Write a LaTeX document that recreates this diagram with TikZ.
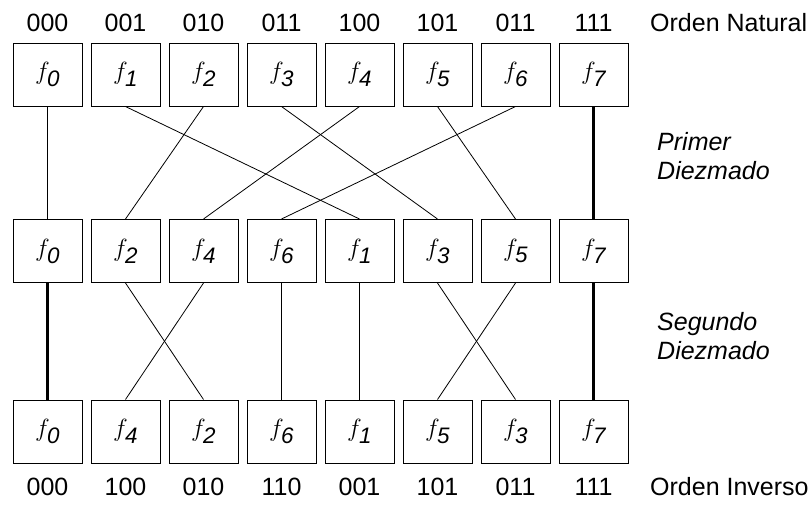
\documentclass[tikz,border=0pt]{standalone}
\usepackage{amsmath}
\usepackage{fontspec}
\setmainfont{Liberation Sans}
\usepackage{tikz}
\tikzset{cell/.style = {shape = rectangle, draw, line width = 1pt, minimum width = 69pt, minimum height = 63pt, inner sep = 0pt, font = \fontsize{32}{34}\selectfont}}
\tikzset{bits/.style = {inner sep = 0pt, font = \fontsize{25}{28}\selectfont}}
\tikzset{note/.style = {anchor = west, align = left, inner sep = 0pt, font = \fontsize{25}{29}\selectfont\itshape}}
\tikzset{edge/.style = {-, line width = 0.8pt}}
\tikzset{bold edge/.style = {-, line width = 2.2pt}}

\begin{document}
\begin{tikzpicture}[x = 1pt, y = -1pt]
			\useasboundingbox (0, 0) rectangle (808, 504);

			% orden natural
			\node[bits] (n0) at (47.5, 22.5) {000};
			\node[bits] (n1) at (125.5, 22.5) {001};
			\node[bits] (n2) at (203.5, 22.5) {010};
			\node[bits] (n3) at (281.5, 22.5) {011};
			\node[bits] (n4) at (359.5, 22.5) {100};
			\node[bits] (n5) at (437.5, 22.5) {101};
			\node[bits] (n6) at (515.5, 22.5) {011};
			\node[bits] (n7) at (593.5, 22.5) {111};
			\node[bits, anchor = west] (natural) at (650, 22.5) {Orden Natural};

			\node[cell] (a0) at (47.5, 74.5) {$f_{\mathit{0}}$};
			\node[cell] (a1) at (125.5, 74.5) {$f_{\mathit{1}}$};
			\node[cell] (a2) at (203.5, 74.5) {$f_{\mathit{2}}$};
			\node[cell] (a3) at (281.5, 74.5) {$f_{\mathit{3}}$};
			\node[cell] (a4) at (359.5, 74.5) {$f_{\mathit{4}}$};
			\node[cell] (a5) at (437.5, 74.5) {$f_{\mathit{5}}$};
			\node[cell] (a6) at (515.5, 74.5) {$f_{\mathit{6}}$};
			\node[cell] (a7) at (593.5, 74.5) {$f_{\mathit{7}}$};

			% primer diezmado
			\node[cell] (b0) at (47.5, 251) {$f_{\mathit{0}}$};
			\node[cell] (b2) at (125.5, 251) {$f_{\mathit{2}}$};
			\node[cell] (b4) at (203.5, 251) {$f_{\mathit{4}}$};
			\node[cell] (b6) at (281.5, 251) {$f_{\mathit{6}}$};
			\node[cell] (b1) at (359.5, 251) {$f_{\mathit{1}}$};
			\node[cell] (b3) at (437.5, 251) {$f_{\mathit{3}}$};
			\node[cell] (b5) at (515.5, 251) {$f_{\mathit{5}}$};
			\node[cell] (b7) at (593.5, 251) {$f_{\mathit{7}}$};
			\node[note] (primer) at (657, 156.5) {Primer\\Diezmado};

			% segundo diezmado
			\node[cell] (c0) at (47.5, 431.5) {$f_{\mathit{0}}$};
			\node[cell] (c4) at (125.5, 431.5) {$f_{\mathit{4}}$};
			\node[cell] (c2) at (203.5, 431.5) {$f_{\mathit{2}}$};
			\node[cell] (c6) at (281.5, 431.5) {$f_{\mathit{6}}$};
			\node[cell] (c1) at (359.5, 431.5) {$f_{\mathit{1}}$};
			\node[cell] (c5) at (437.5, 431.5) {$f_{\mathit{5}}$};
			\node[cell] (c3) at (515.5, 431.5) {$f_{\mathit{3}}$};
			\node[cell] (c7) at (593.5, 431.5) {$f_{\mathit{7}}$};
			\node[note] (segundo) at (657, 336.5) {Segundo\\Diezmado};

			% orden inverso
			\node[bits] (v0) at (47.5, 486.5) {000};
			\node[bits] (v1) at (125.5, 486.5) {100};
			\node[bits] (v2) at (203.5, 486.5) {010};
			\node[bits] (v3) at (281.5, 486.5) {110};
			\node[bits] (v4) at (359.5, 486.5) {001};
			\node[bits] (v5) at (437.5, 486.5) {101};
			\node[bits] (v6) at (515.5, 486.5) {011};
			\node[bits] (v7) at (593.5, 486.5) {111};
			\node[bits, anchor = west] (inverso) at (650, 486.5) {Orden Inverso};

			\draw[edge] (a0.south) to (b0.north);
			\draw[edge] (a1.south) to (b1.north);
			\draw[edge] (a2.south) to (b2.north);
			\draw[edge] (a3.south) to (b3.north);
			\draw[edge] (a4.south) to (b4.north);
			\draw[edge] (a5.south) to (b5.north);
			\draw[edge] (a6.south) to (b6.north);
			\draw[bold edge] (a7.south) to (b7.north);

			\draw[bold edge] (b0.south) to (c0.north);
			\draw[edge] (b1.south) to (c1.north);
			\draw[edge] (b2.south) to (c2.north);
			\draw[edge] (b3.south) to (c3.north);
			\draw[edge] (b4.south) to (c4.north);
			\draw[edge] (b5.south) to (c5.north);
			\draw[edge] (b6.south) to (c6.north);
			\draw[bold edge] (b7.south) to (c7.north);
		\end{tikzpicture}
\end{document}
